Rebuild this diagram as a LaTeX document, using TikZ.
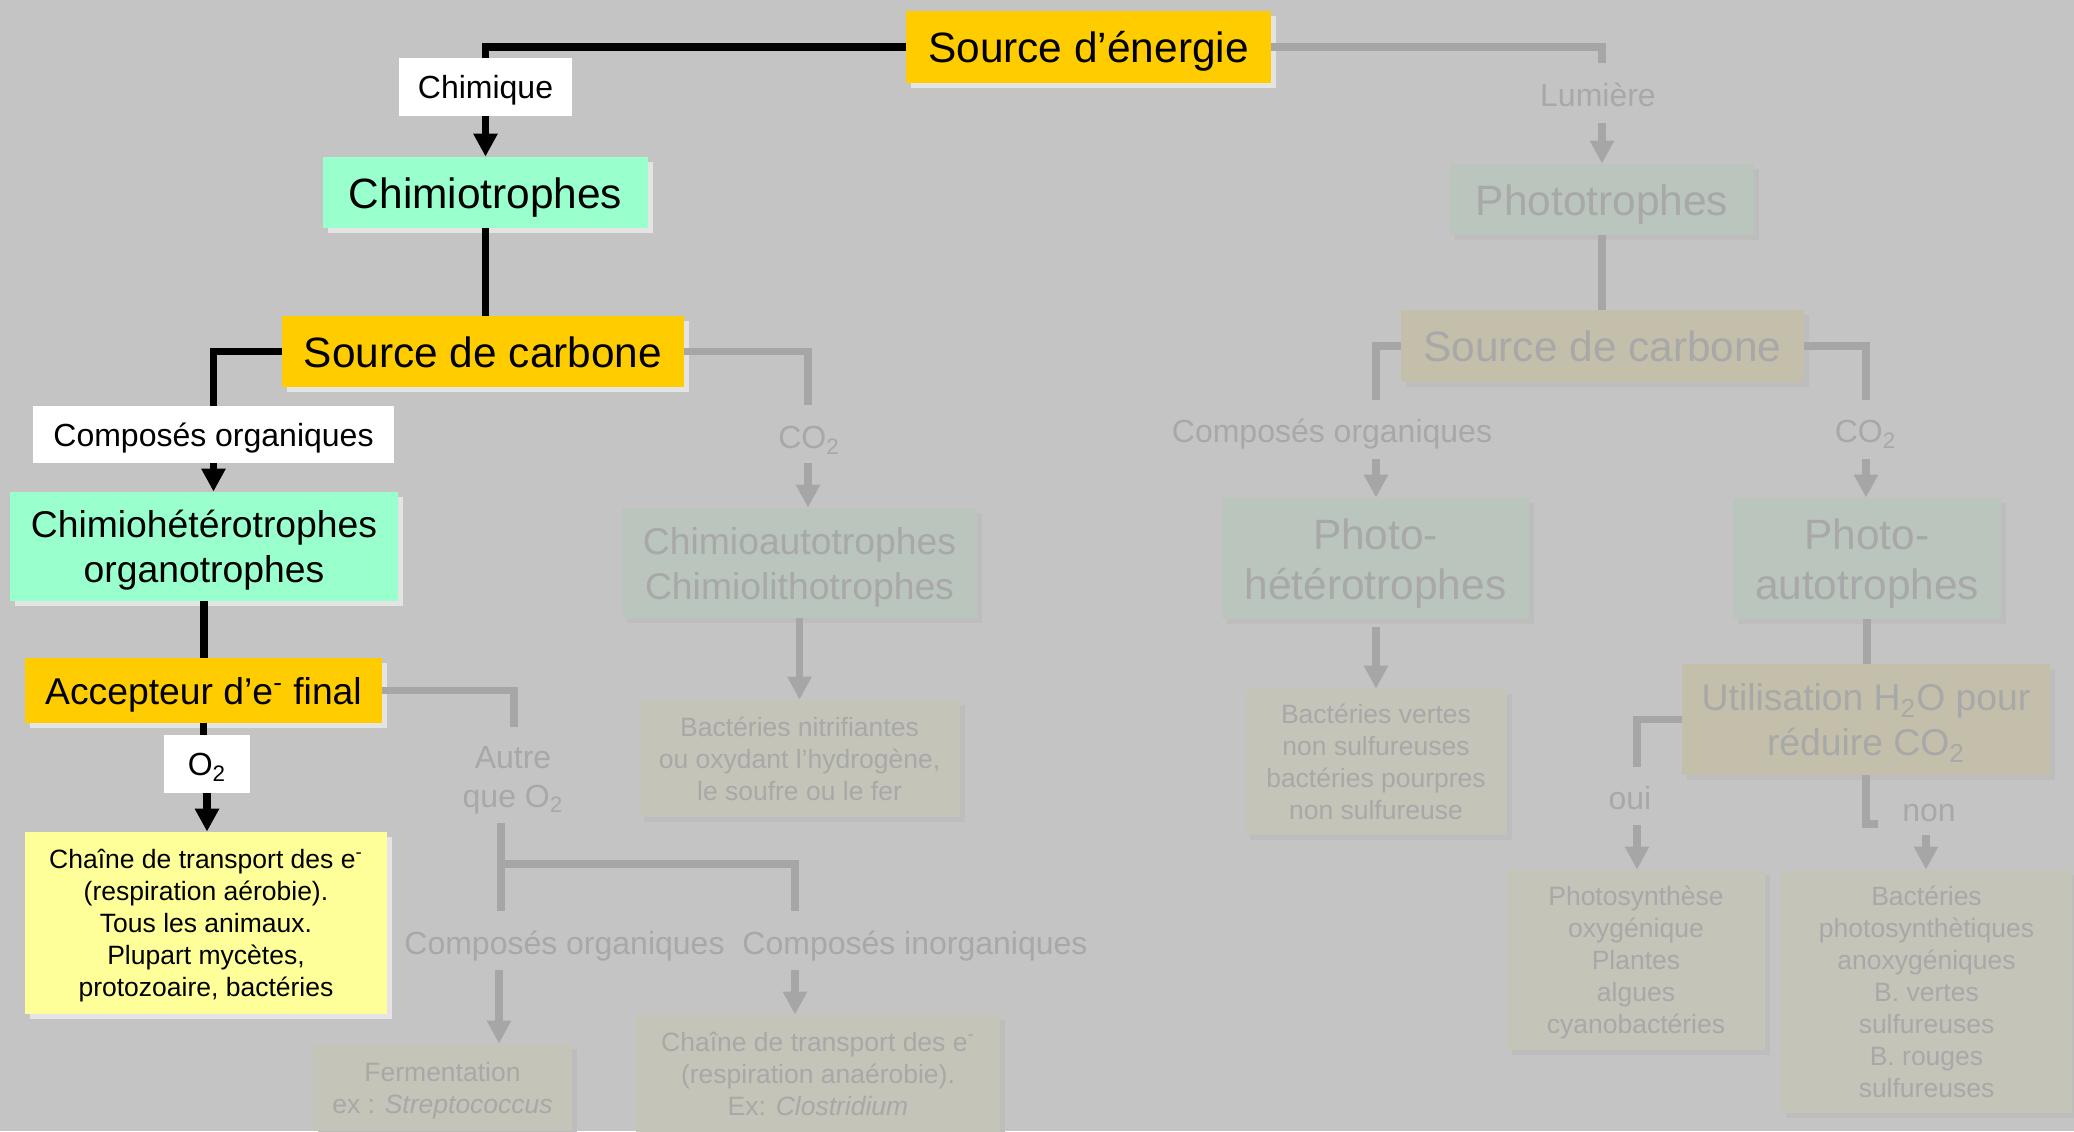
\documentclass[tikz,border=0pt]{standalone}
\usepackage{fontspec}
\setmainfont{Liberation Sans}
\usetikzlibrary{arrows.meta,shadows,calc}

\definecolor{bgc}{HTML}{C4C4C4}
\definecolor{gold}{HTML}{FFCC00}
\definecolor{mint}{HTML}{99FFCC}
\definecolor{paleyellow}{HTML}{FFFF99}
\definecolor{shmain}{HTML}{E4E4E4}
\definecolor{shfade}{HTML}{BDBDBD}
\definecolor{fadetxt}{HTML}{A8A8A8}
\definecolor{fadeline}{HTML}{A6A6A6}
\definecolor{fademint}{HTML}{BAC5BE}
\definecolor{fadegold}{HTML}{C4BFAA}
\definecolor{fadepale}{HTML}{C4C4B9}

\newcommand\fbig{\fontsize{21.2pt}{25pt}\selectfont}
\newcommand\fmed{\fontsize{18.65pt}{22.5pt}\selectfont}
\newcommand\fsml{\fontsize{16pt}{19.5pt}\selectfont}
\newcommand\ftin{\fontsize{13.25pt}{16pt}\selectfont}

\tikzset{
  wh/.style 2 args={minimum width=#1*0.5pt, minimum height=#2*0.5pt},
  % fixed text box: lines are centred on their letters, whatever the descenders
  th/.style={text height=#1, text depth=0pt},
  base/.style={inner sep=0pt, align=center, anchor=center},
  mainbox/.style={base, general shadow={fill=shmain, shadow xshift=2.5pt, shadow yshift=-2.5pt}},
  fadebox/.style={base, text=fadetxt, general shadow={fill=shfade, shadow xshift=2.5pt, shadow yshift=-2.5pt}},
  tag/.style={base, fill=white},
  fadetag/.style={base, text=fadetxt},
  blk/.style={line width=3.7pt, draw=black},
  gry/.style={line width=3.7pt, draw=fadeline},
  tip/.style={-{Triangle[width=11.5pt,length=11.5pt]}}
}

\begin{document}
\begin{tikzpicture}[x=0.5pt,y=-0.5pt]
\useasboundingbox (0,0) rectangle (2074,1131);
\fill[bgc] (0,0) rectangle (2074,1131);

% ---- chemotroph branch (highlighted) ----
\node[mainbox, fill=gold, wh={365}{72}, font=\fbig, th=15.7pt] (se) at (1088.5,47) {Source d’énergie};
\node[tag, wh={173}{58}, font=\fsml, th=11.84pt] (chim) at (485.5,87) {Chimique};
\node[mainbox, fill=mint, wh={325}{71}, font=\fbig, th=15.7pt] (ct) at (485.5,192.5) {Chimiotrophes};
\node[mainbox, fill=gold, wh={402}{71}, font=\fbig, th=15.7pt] (sc1) at (483,351.5) {Source de carbone};
\node[tag, wh={361}{57}, font=\fsml, th=11.84pt] (co1) at (213.5,434.5) {Composés organiques};
\node[mainbox, fill=mint, wh={388}{109}, font=\fmed, th=36.3pt] (ch) at (204,546.5) {Chimiohétérotrophes\\organotrophes};
\node[mainbox, fill=gold, wh={357}{65}, font=\fmed, th=13.8pt] (ac) at (203.5,690.5) {Accepteur d’e\textsuperscript{-} final};
\node[tag, wh={86}{58}, font=\fsml, th=11.84pt] (otwo) at (207,764) {O\textsubscript{2}};
\node[mainbox, fill=paleyellow, wh={362}{182}, font=\ftin, th=73.8pt] (ca) at (206,923)
  {Chaîne de transport des e\textsuperscript{-}\\(respiration aérobie).\\Tous les animaux.\\Plupart mycètes,\\protozoaire, bactéries};

% ---- other chemotroph branches (faded) ----
\node[fadetag, font=\fsml, th=11.84pt] (cco2) at (809,437) {CO\textsubscript{2}};
\node[fadebox, fill=fademint, wh={355}{110}, font=\fmed, th=36.3pt] (ca2) at (799.5,563) {Chimioautotrophes\\Chimiolithotrophes};
\node[fadebox, fill=fadepale, wh={321}{117}, font=\ftin, th=41.8pt] (bn) at (799.5,758.5)
  {Bactéries nitrifiantes\\ou oxydant l’hydrogène,\\le soufre ou le fer};
\node[fadetag, font=\fsml, th=31.34pt] (aut) at (513,776) {Autre\\que O\textsubscript{2}};
\node[fadetag, font=\fsml, th=11.84pt] (corg) at (564.5,943) {Composés organiques};
\node[fadetag, font=\fsml, th=11.84pt] (cinorg) at (915,943) {Composés inorganiques};
\node[fadebox, fill=fadepale, wh={259}{87}, font=\ftin, th=25.8pt] (fe) at (442.5,1087.5)
  {Fermentation\\ex : \textit{Streptococcus}};
\node[fadebox, fill=fadepale, wh={364}{117}, font=\ftin, th=41.8pt] (cn) at (818,1073.5)
  {Chaîne de transport des e\textsuperscript{-}\\(respiration anaérobie).\\Ex: \textit{Clostridium}};

% ---- phototroph branch (faded) ----
\node[fadetag, font=\fsml, th=11.84pt] (lum) at (1598,95) {Lumière};
\node[fadebox, fill=fademint, wh={304}{71}, font=\fbig, th=15.7pt] (pt) at (1602,199.5) {Phototrophes};
\node[fadebox, fill=fadegold, wh={403}{72}, font=\fbig, th=15.7pt] (sc2) at (1602.5,346) {Source de carbone};
\node[fadetag, font=\fsml, th=11.84pt] (porg) at (1332,431) {Composés organiques};
\node[fadetag, font=\fsml, th=11.84pt] (pco2) at (1865.5,431) {CO\textsubscript{2}};
\node[fadebox, fill=fademint, wh={307}{121}, font=\fbig, th=40.7pt] (ph) at (1375.5,558.5) {Photo-\\hétérotrophes};
\node[fadebox, fill=fademint, wh={268}{121}, font=\fbig, th=40.7pt] (pa) at (1867,558.5) {Photo-\\autotrophes};
\node[fadebox, fill=fadepale, wh={262}{146}, font=\ftin, th=57.8pt] (bv) at (1376,762)
  {Bactéries vertes\\non sulfureuses\\bactéries pourpres\\non sulfureuse};
\node[fadebox, fill=fadegold, wh={368}{111}, font=\fmed, th=36.3pt] (ut) at (1866,719.5)
  {Utilisation H\textsubscript{2}O pour\\réduire CO\textsubscript{2}};
\node[fadetag, font=\fsml, th=11.84pt] (oui) at (1630,798) {oui};
\node[fadetag, font=\fsml, th=11.84pt] (non) at (1929,810) {non};
\node[fadebox, fill=fadepale, wh={258}{180}, font=\ftin, th=73.8pt] (ps) at (1636,960)
  {Photosynthèse\\oxygénique\\Plantes\\algues\\cyanobactéries};
\node[fadebox, fill=fadepale, wh={291}{243}, font=\ftin, th=105.8pt] (bp) at (1926.5,991.5)
  {Bactéries\\photosynthètiques\\anoxygéniques\\B. vertes\\sulfureuses\\B. rouges\\sulfureuses};

% ---- highlighted connectors ----
\draw[blk] (se.west) -- (chim.north |- se.west) -- (chim.north);
\draw[blk,tip] (chim.south) -- (chim.south |- ct.north);
\draw[blk] (ct.south) -- (ct.south |- sc1.north);
\draw[blk] (sc1.west) -| (co1.north);
\draw[blk,tip] (co1.south) -- (co1.south |- ch.north);
\draw[blk] (ch.south) -- (ch.south |- ac.north);
\draw[blk] (ac.south) -- (ac.south |- otwo.north);
\draw[blk,tip] (otwo.south) -- (otwo.south |- ca.north);

% ---- faded connectors, chemotroph side ----
\coordinate (cco2A) at (808,405);
\coordinate (cco2B) at (808,463);
\draw[gry] (sc1.east) -| (cco2A);
\draw[gry,tip] (cco2B) -- (cco2B |- ca2.north);
\draw[gry,tip] (ca2.south) -- (ca2.south |- bn.north);
\coordinate (autA) at (514,727);
\draw[gry] (ac.east) -| (autA);
\coordinate (tTop) at (501,823);
\coordinate (tMid) at (501,864);
\coordinate (tBot) at (501,911);
\coordinate (tR) at (795,911);
\draw[gry] (tTop) -- (tBot);
\draw[gry] (tMid) -| (tR);
\coordinate (feA) at (499,970);
\coordinate (cnA) at (795,970);
\draw[gry,tip] (feA) -- (feA |- fe.north);
\draw[gry,tip] (cnA) -- (cnA |- cn.north);

% ---- faded connectors, phototroph side ----
\coordinate (lumA) at (1602,63);
\coordinate (lumB) at (1602,123);
\draw[gry] (se.east) -| (lumA);
\draw[gry,tip] (lumB) -- (lumB |- pt.north);
\draw[gry] (pt.south) -- (pt.south |- sc2.north);
\coordinate (porgA) at (1376,400);
\coordinate (porgB) at (1376,459);
\draw[gry] (sc2.west) -| (porgA);
\draw[gry,tip] (porgB) -- (porgB |- ph.north);
\coordinate (phB) at (1376,627);
\draw[gry,tip] (phB) -- (phB |- bv.north);
\coordinate (pco2A) at (1866,400);
\coordinate (pco2B) at (1866,459);
\draw[gry] (sc2.east) -| (pco2A);
\draw[gry,tip] (pco2B) -- (pco2B |- pa.north);
\draw[gry] (pa.south) -- (pa.south |- ut.north);
\coordinate (ouiA) at (1637,767);
\coordinate (ouiB) at (1637,825);
\draw[gry] (ut.west) -| (ouiA);
\draw[gry,tip] (ouiB) -- (ouiB |- ps.north);
\coordinate (nonA) at (1878,824);
\coordinate (nonB) at (1926,835);
\draw[gry] (ut.south) |- (nonA);
\draw[gry,tip] (nonB) -- (nonB |- bp.north);
\end{tikzpicture}
\end{document}
